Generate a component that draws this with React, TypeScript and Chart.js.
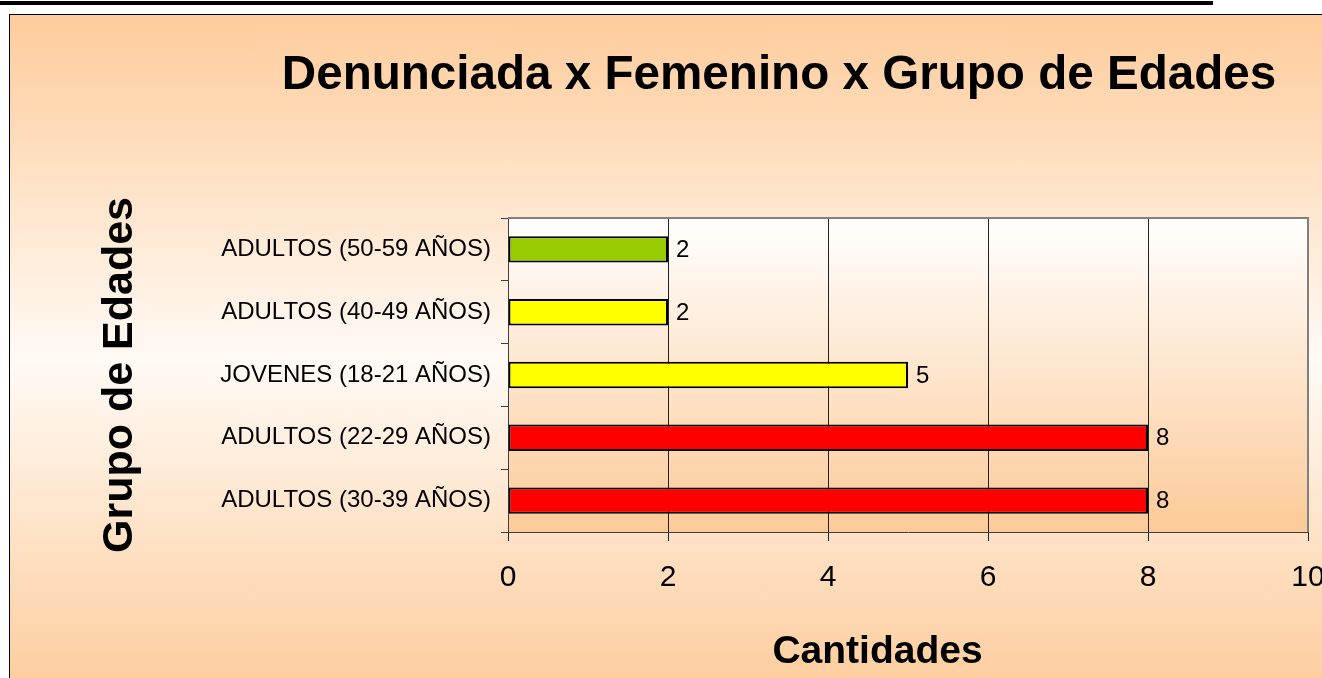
import React, { useEffect, useRef } from "react";
import { Chart, registerables } from "chart.js";

Chart.register(...registerables);

const CHART_TITLE = "Denunciada x Femenino x Grupo de Edades";
const X_TITLE = "Cantidades";
const Y_TITLE = "Grupo de Edades";
const CATEGORIES = [
  "ADULTOS (50-59 AÑOS)",
  "ADULTOS (40-49 AÑOS)",
  "JOVENES (18-21 AÑOS)",
  "ADULTOS (22-29 AÑOS)",
  "ADULTOS (30-39 AÑOS)",
];
const VALUES = [2, 2, 5, 8, 8];
const BAR_COLORS = ["#99CC00", "#FFFF00", "#FFFF00", "#FF0000", "#FF0000"];
const X_MIN = 0;
const X_MAX = 10;
const X_STEP = 2;

const FONT = "'Liberation Sans', Arial, Helvetica, sans-serif";

const plotBackground = {
  id: "plotBackground",
  beforeDraw(chart: any) {
    const { ctx, chartArea } = chart;
    if (!chartArea) return;
    const g = ctx.createLinearGradient(0, chartArea.top, 0, chartArea.bottom);
    g.addColorStop(0, "#FFFFFF");
    g.addColorStop(1, "#FCCA98");
    ctx.save();
    ctx.fillStyle = g;
    ctx.fillRect(chartArea.left, chartArea.top, chartArea.right - chartArea.left, chartArea.bottom - chartArea.top);
    ctx.restore();
  },
  afterDraw(chart: any) {
    const { ctx, chartArea } = chart;
    ctx.save();
    ctx.strokeStyle = "#808080";
    ctx.lineWidth = 2;
    ctx.beginPath();
    ctx.moveTo(chartArea.left, chartArea.top);
    ctx.lineTo(chartArea.right, chartArea.top);
    ctx.lineTo(chartArea.right, chartArea.bottom);
    ctx.stroke();
    ctx.restore();
  },
};

const valueLabels = {
  id: "valueLabels",
  afterDatasetsDraw(chart: any) {
    const { ctx } = chart;
    const meta = chart.getDatasetMeta(0);
    const data = chart.data.datasets[0].data;
    ctx.save();
    ctx.font = `24px ${FONT}`;
    ctx.fillStyle = "#000";
    ctx.textAlign = "left";
    ctx.textBaseline = "middle";
    meta.data.forEach((bar: any, i: number) => {
      ctx.fillText(String(data[i]), bar.x + 8, bar.y + 1);
    });
    ctx.restore();
  },
};

const xAxisTitle = {
  id: "xAxisTitle",
  afterDraw(chart: any) {
    const { ctx } = chart;
    ctx.save();
    ctx.font = `bold 39px ${FONT}`;
    ctx.fillStyle = "#000";
    ctx.textAlign = "center";
    ctx.textBaseline = "middle";
    ctx.fillText(X_TITLE, 877.5, 652);
    ctx.restore();
  },
};

export default function App() {
  const canvasRef = useRef<HTMLCanvasElement | null>(null);

  useEffect(() => {
    if (!canvasRef.current) return;
    const chart = new Chart(canvasRef.current, {
      type: "bar",
      data: {
        labels: CATEGORIES,
        datasets: [
          {
            data: VALUES,
            backgroundColor: BAR_COLORS,
            borderColor: "#000000",
            borderWidth: 2,
            borderSkipped: false,
            barPercentage: 0.42,
            categoryPercentage: 1,
          },
        ],
      },
      options: {
        indexAxis: "y",
        responsive: false,
        animation: false,
        devicePixelRatio: 1,
        layout: { padding: 0 },
        plugins: {
          legend: { display: false },
          tooltip: { enabled: false },
          title: {
            display: true,
            text: CHART_TITLE,
            color: "#000",
            font: { family: FONT, size: 47.6, weight: "bold", lineHeight: 1.2 },
            padding: { top: 47, bottom: 113.9 },
          },
        },
        scales: {
          x: {
            type: "linear",
            min: X_MIN,
            max: X_MAX,
            ticks: {
              stepSize: X_STEP,
              color: "#000",
              font: { family: FONT, size: 30, lineHeight: 1.2 },
              padding: 19,
              maxRotation: 0,
            },
            grid: { color: "#222222", lineWidth: 1, tickLength: 9, drawTicks: true },
            border: { display: true, color: "#404040", width: 1 },
            afterFit(scale: any) {
              scale.height = 146;
              scale.paddingLeft = 0;
              scale.paddingRight = 0;
            },
          },
          y: {
            type: "category",
            ticks: {
              color: "#000",
              font: { family: FONT, size: 24 },
              padding: 10,
            },
            grid: {
              offset: true,
              drawOnChartArea: false,
              drawTicks: true,
              tickLength: 7,
              color: "#404040",
              lineWidth: 1,
            },
            border: { display: true, color: "#404040", width: 1 },
            title: {
              display: true,
              text: Y_TITLE,
              color: "#000",
              font: { family: FONT, size: 43, weight: "bold", lineHeight: 1.2 },
              padding: { top: 94, bottom: 0 },
            },
            afterFit(scale: any) {
              scale.width = 508;
              scale.paddingTop = 0;
              scale.paddingBottom = 0;
            },
          },
          yRight: {
            type: "linear",
            position: "right",
            display: true,
            grid: { display: false, drawTicks: false },
            border: { display: false },
            ticks: { display: false },
            afterFit(scale: any) {
              scale.width = 250;
              scale.paddingTop = 0;
              scale.paddingBottom = 0;
            },
          },
        },
      } as any,
      plugins: [plotBackground, valueLabels, xAxisTitle],
    });
    return () => chart.destroy();
  }, []);

  return (
    <div
      style={{
        position: "absolute",
        left: 0,
        top: 0,
        width: 1322,
        height: 678,
        overflow: "hidden",
        background: "#FFFFFF",
      }}
    >
      <div style={{ position: "absolute", left: 0, top: 1, width: 1213, height: 4, background: "#000" }} />
      <div
        style={{
          position: "absolute",
          left: 9,
          top: 14,
          width: 1400,
          height: 692,
          borderLeft: "1px solid #000",
          borderTop: "1px solid #000",
          background: "linear-gradient(to bottom, #FECC9C 0%, #FFFAF5 50%, #FDCA98 100%)",
        }}
      />
      <canvas
        ref={canvasRef}
        width={1558}
        height={678}
        style={{ position: "absolute", left: 0, top: 0, width: 1558, height: 678 }}
      />
    </div>
  );
}
